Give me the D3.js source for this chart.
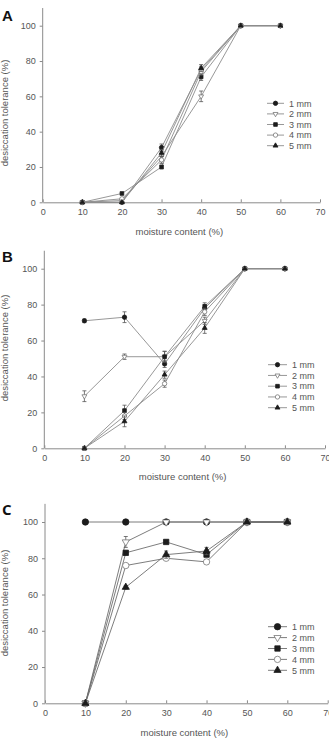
<!DOCTYPE html>
<html>
<head>
<meta charset="utf-8">
<script src="https://cdn.jsdelivr.net/npm/d3@7"></script>
<style>
  body { margin: 0; background: #fff; }
  svg { display: block; font-family: "Liberation Sans", Arial, sans-serif; }
</style>
</head>
<body>
<svg id="chart" width="329" height="738"></svg>
<script>
// x values and labels shared by all three panels
const moisture = [10, 20, 30, 40, 50, 60];
const sizeLabels = ["1 mm", "2 mm", "3 mm", "4 mm", "5 mm"];
const xTicks = [0, 10, 20, 30, 40, 50, 60, 70];
const yTicks = [0, 20, 40, 60, 80, 100];

// Panel A
const a1mm = [0, 0, 31, 75, 100, 100];
const a2mm = [0, 1, 26, 60, 100, 100];
const a3mm = [0, 5, 20, 71, 100, 100];
const a4mm = [0, 2, 24, 74, 100, 100];
const a5mm = [0, 0, 28, 76, 100, 100];
const a1mmErr = [0, 0, 2, 2, 0, 0];
const a2mmErr = [0, 0, 3, 3, 0, 0];
const a3mmErr = [0, 0, 1, 2, 0, 0];
const a4mmErr = [0, 0, 2, 2, 0, 0];
const a5mmErr = [0, 0, 2, 2, 0, 0];

// Panel B
const b1mm = [71, 73, 47, 78, 100, 100];
const b2mm = [29, 51, 51, 71, 100, 100];
const b3mm = [0, 21, 51, 79, 100, 100];
const b4mm = [0, 18, 36, 76, 100, 100];
const b5mm = [0, 15, 41, 67, 100, 100];
const b1mmErr = [1, 3, 2, 2, 0, 0];
const b2mmErr = [3, 1.5, 3, 2, 0, 0];
const b3mmErr = [0, 3, 3, 2, 0, 0];
const b4mmErr = [0, 2, 2, 2, 0, 0];
const b5mmErr = [0, 3, 2, 3, 0, 0];

// Panel C
const c1mm = [100, 100, 100, 100, 100, 100];
const c2mm = [0, 89, 100, 100, 100, 100];
const c3mm = [0, 83, 89, 82, 100, 100];
const c4mm = [0, 76, 80, 78, 100, 100];
const c5mm = [0, 64, 82, 84, 100, 100];
const c1mmErr = [0, 0, 0, 0, 0, 0];
const c2mmErr = [0, 3, 0, 0, 0, 0];
const c3mmErr = [0, 1, 1, 1, 0, 0];
const c4mmErr = [0, 1, 1, 1, 0, 0];
const c5mmErr = [0, 1, 2, 2, 0, 0];

// marker per series: shape, filled or open, rotation, size factor
const markers = [
    {shape: d3.symbolCircle, filled: true, rot: 0, k: 1},
    {shape: d3.symbolTriangle, filled: false, rot: 180, k: 0.7},
    {shape: d3.symbolSquare, filled: true, rot: 0, k: 0.9},
    {shape: d3.symbolCircle, filled: false, rot: 0, k: 1},
    {shape: d3.symbolTriangle, filled: true, rot: 0, k: 0.7}
];

const svg = d3.select("#chart");

function marker(sel, m, size) {
    sel.attr("d", d3.symbol().type(m.shape).size(size * m.k)())
        .attr("fill", m.filled ? "#1c1c1c" : "#fff")
        .attr("stroke", m.filled ? "#1c1c1c" : "#777")
        .attr("stroke-width", 0.8);
}

function drawPanel(p) {

    const x = d3.scaleLinear().domain([0, 70]).range([p.x0, p.x70]);
    const y = d3.scaleLinear().domain([0, 100]).range([p.y0, p.y100]);
    const g = svg.append("g");

    // y axis (line runs up to 110)
    const ya = g.append("g")
        .attr("transform", `translate(${p.x0},0)`)
        .call(d3.axisLeft(y).tickValues(yTicks).tickSize(3).tickPadding(4));
    ya.select(".domain").remove();
    ya.append("line")
        .attr("y1", y(0)).attr("y2", y(110))
        .attr("stroke", "#8a8a8a");

    // x axis, ticks pointing up
    g.append("g")
        .attr("transform", `translate(0,${p.y0})`)
        .call(d3.axisBottom(x).tickValues(xTicks).tickSizeInner(-3).tickSizeOuter(0).tickPadding(6));

    g.selectAll(".tick line, .domain").attr("stroke", "#8a8a8a");
    g.selectAll(".tick text").attr("fill", "#555").style("font-size", "9px");

    // titles
    g.append("text")
        .attr("x", (x(0) + x(70)) / 2 - 2).attr("y", p.xTitleY)
        .attr("text-anchor", "middle").attr("fill", "#555")
        .style("font-size", "9.5px")
        .text("moisture content (%)");
    g.append("text")
        .attr("transform", `translate(${p.yTitleX},${p.yTitleY}) rotate(-90)`)
        .attr("text-anchor", "middle").attr("fill", "#555")
        .style("font-size", "9.5px")
        .text("desiccation tolerance (%)");
    g.append("text")
        .attr("x", 2).attr("y", p.labelY)
        .attr("fill", "#111").style("font-size", "15px").style("font-weight", "bold")
        .style("font-family", p.labelFont)
        .text(p.label);

    const line = d3.line().x((d, i) => x(moisture[i])).y(d => y(d));

    p.series.forEach((vals, s) => {
        const m = markers[s];
        const sg = g.append("g");
        sg.append("path")
            .attr("d", line(vals))
            .attr("fill", "none")
            .attr("stroke", p.lineColor)
            .attr("stroke-width", 0.9);

        // error bars
        const errs = p.errors[s];
        vals.forEach((v, i) => {
            if (!errs[i]) return;
            const cx = x(moisture[i]);
            const eg = sg.append("g").attr("stroke", "#555").attr("stroke-width", 0.8);
            eg.append("line").attr("x1", cx).attr("x2", cx)
                .attr("y1", y(v - errs[i])).attr("y2", y(v + errs[i]));
            [v - errs[i], v + errs[i]].forEach(e => {
                eg.append("line").attr("x1", cx - 2).attr("x2", cx + 2)
                    .attr("y1", y(e)).attr("y2", y(e));
            });
        });

        sg.selectAll(".pt")
            .data(vals)
            .join("path")
            .attr("transform", (d, i) => `translate(${x(moisture[i])},${y(d)}) rotate(${m.rot})`)
            .call(marker, m, p.markSize);
    });

    // legend
    const lg = g.append("g").attr("transform", `translate(${p.legX},${p.legY})`);
    sizeLabels.forEach((lab, s) => {
        const m = markers[s];
        const row = lg.append("g").attr("transform", `translate(0,${s * p.legStep})`);
        row.append("line").attr("x1", 0).attr("x2", p.legLen)
            .attr("stroke", p.lineColor).attr("stroke-width", 0.9);
        row.append("path")
            .attr("transform", `translate(${p.legLen / 2},0) rotate(${m.rot})`)
            .call(marker, m, p.markSize);
        row.append("text")
            .attr("x", p.legLen + 5).attr("y", 3.2)
            .attr("fill", "#555").style("font-size", "9px")
            .text(lab);
    });
}

drawPanel({
    label: "A", labelY: 20.5, labelFont: "Liberation Sans, Arial, sans-serif",
    x0: 42.7, x70: 320, y0: 202.3, y100: 25.7,
    xTitleY: 235, yTitleX: 8, yTitleY: 113,
    series: [a1mm, a2mm, a3mm, a4mm, a5mm],
    errors: [a1mmErr, a2mmErr, a3mmErr, a4mmErr, a5mmErr],
    lineColor: "#8c8c8c", markSize: 15,
    legX: 267, legY: 103.3, legStep: 10.6, legLen: 17
});

drawPanel({
    label: "B", labelY: 262, labelFont: "Liberation Sans, Arial, sans-serif",
    x0: 44.3, x70: 325, y0: 448.3, y100: 268.7,
    xTitleY: 480, yTitleX: 8, yTitleY: 348,
    series: [b1mm, b2mm, b3mm, b4mm, b5mm],
    errors: [b1mmErr, b2mmErr, b3mmErr, b4mmErr, b5mmErr],
    lineColor: "#8c8c8c", markSize: 15,
    legX: 268, legY: 364.7, legStep: 10.75, legLen: 19
});

drawPanel({
    label: "C", labelY: 515, labelFont: "Open Sans, sans-serif",
    x0: 45, x70: 327.7, y0: 703.3, y100: 522,
    xTitleY: 736, yTitleX: 8, yTitleY: 603,
    series: [c1mm, c2mm, c3mm, c4mm, c5mm],
    errors: [c1mmErr, c2mmErr, c3mmErr, c4mmErr, c5mmErr],
    lineColor: "#6e6e6e", markSize: 32,
    legX: 268, legY: 626.7, legStep: 10.9, legLen: 19
});
</script>
</body>
</html>
